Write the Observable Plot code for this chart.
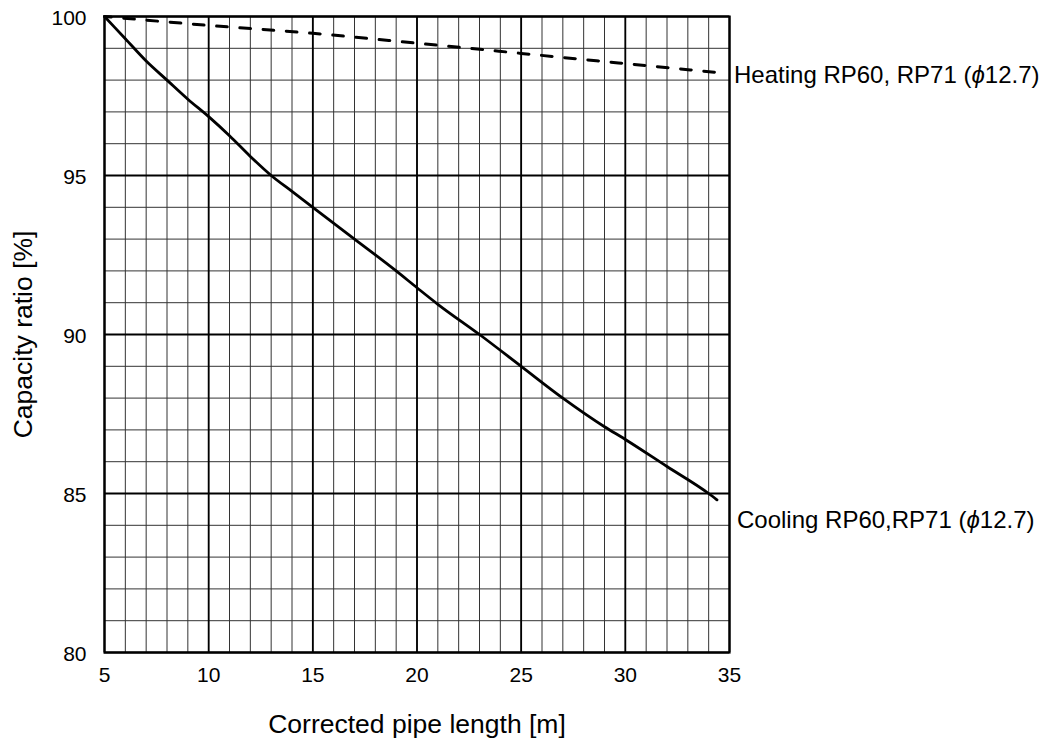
<!DOCTYPE html>
<html>
<head>
<meta charset="utf-8">
<script src="https://cdn.jsdelivr.net/npm/d3@7"></script>
<script src="https://cdn.jsdelivr.net/npm/@observablehq/plot@0.6"></script>
<style>
  html, body { margin: 0; padding: 0; background: #fff; }
  #chart svg { display: block; }
</style>
</head>
<body>
<div id="chart"></div>
<script>
// ---- data ----
const coolingX = [5, 6, 7, 8, 9, 10, 11, 12, 13, 14, 15, 17, 19, 20, 21, 23, 25, 27, 29, 30, 32, 34, 34.4];
const coolingY = [100, 99.3, 98.6, 98.0, 97.4, 96.85, 96.25, 95.6, 95.0, 94.5, 94.0, 93.0, 92.0, 91.47, 90.95, 90.0, 89.0, 88.0, 87.1, 86.7, 85.85, 85.0, 84.8];
const heatingX = [5, 10, 15, 20, 25, 30, 34.4];
const heatingY = [100, 99.72, 99.47, 99.16, 98.84, 98.52, 98.24];
const phi = "\u03D5";
const coolingLabel = "Cooling RP60,RP71 (" + phi + "12.7)";
const heatingLabel = "Heating RP60, RP71 (" + phi + "12.7)";
const xTicks = [5, 10, 15, 20, 25, 30, 35];
const yTicks = [80, 85, 90, 95, 100];
const xMinor = d3.range(5, 36, 1);
const yMinor = d3.range(80, 101, 1);
const xTitle = "Corrected pipe length [m]";
const yTitle = "Capacity ratio [%]";

const cooling = coolingX.map((x, i) => ({x, y: coolingY[i]}));
const heating = heatingX.map((x, i) => ({x, y: heatingY[i]}));

const font = "'Liberation Sans', Arial, Helvetica, 'DejaVu Sans', sans-serif";

const chart = Plot.plot({
  width: 1042,
  height: 749,
  marginLeft: 104,
  marginRight: 313,
  marginTop: 16,
  marginBottom: 97,
  style: {fontFamily: font, color: "#000", background: "#fff", overflow: "visible"},
  x: {domain: [5, 35]},
  y: {domain: [80, 100]},
  marks: [
    Plot.ruleX(xMinor, {stroke: "#333", strokeWidth: 1}),
    Plot.ruleY(yMinor, {stroke: "#333", strokeWidth: 1}),
    Plot.ruleX(xTicks, {stroke: "#000", strokeWidth: 1.8}),
    Plot.ruleY(yTicks, {stroke: "#000", strokeWidth: 1.8}),
    Plot.frame({stroke: "#000", strokeWidth: 2.2}),
    Plot.line(heating, {x: "x", y: "y", stroke: "#000", strokeWidth: 3, strokeDasharray: "10.7,12.6", strokeDashoffset: 4, curve: "monotone-x"}),
    Plot.line(cooling, {x: "x", y: "y", stroke: "#000", strokeWidth: 2.8, curve: "monotone-x"}),
    Plot.text([heatingLabel], {x: () => heatingX[heatingX.length - 1], y: () => heatingY[heatingY.length - 1], text: d => d, textAnchor: "start", lineAnchor: "middle", dx: 17, dy: 3, fontSize: 24, fill: "#000"}),
    Plot.text([coolingLabel], {x: () => coolingX[coolingX.length - 1], y: () => coolingY[coolingY.length - 1], text: d => d, textAnchor: "start", lineAnchor: "middle", dx: 20, dy: 20, fontSize: 24, fill: "#000"}),
    Plot.axisX({ticks: xTicks, tickSize: 0, tickPadding: 15, fontSize: 21, label: null}),
    Plot.axisY({ticks: yTicks, tickSize: 0, tickPadding: 18, fontSize: 21, label: null, dy: 2}),
    Plot.text([xTitle], {frameAnchor: "bottom", text: d => d, textAnchor: "middle", lineAnchor: "bottom", dy: 80, fontSize: 26.5, fill: "#000"}),
    Plot.text([yTitle], {frameAnchor: "left", text: d => d, rotate: -90, textAnchor: "middle", lineAnchor: "middle", dx: -81, dy: 0, fontSize: 26.5, fill: "#000"})
  ]
});

// italicise the diameter symbol inside the series labels
chart.querySelectorAll("text").forEach(t => {
  const s = t.textContent;
  const i = s.indexOf(phi);
  if (i < 0 || t.children.length) return;
  const ns = "http://www.w3.org/2000/svg";
  t.textContent = "";
  t.appendChild(document.createTextNode(s.slice(0, i)));
  const ts = document.createElementNS(ns, "tspan");
  ts.setAttribute("font-style", "italic");
  ts.textContent = phi;
  t.appendChild(ts);
  t.appendChild(document.createTextNode(s.slice(i + 1)));
});

document.getElementById("chart").appendChild(chart);
</script>
</body>
</html>
